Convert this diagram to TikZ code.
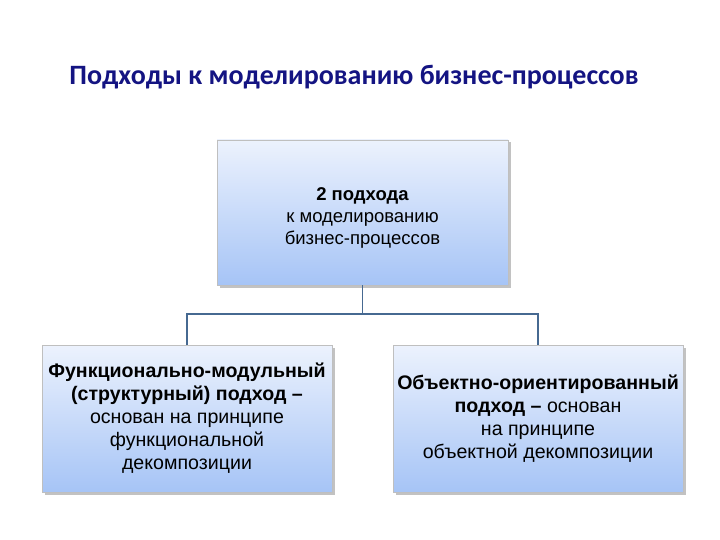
\documentclass[tikz,border=0pt]{standalone}
\usepackage{fontspec}
\setmainfont{Liberation Sans}
\newfontfamily\titlefont{Carlito}
\usetikzlibrary{shadows}
\definecolor{titleblue}{RGB}{20,20,130}
\definecolor{boxtop}{RGB}{236,242,253}
\definecolor{boxbottom}{RGB}{166,196,246}
\definecolor{linkblue}{RGB}{70,105,145}
\tikzset{
  box/.style={draw=black!25, line width=0.6pt, top color=boxtop, bottom color=boxbottom,
    drop shadow={shadow xshift=2.5pt, shadow yshift=-2.5pt, fill=black!40, opacity=0.6},
    align=center, font=\fontsize{19.6}{23}\selectfont, inner xsep=0pt, inner ysep=2pt},
  link/.style={draw=linkblue, line width=1.8pt}
}
\begin{document}
\begin{tikzpicture}[x=1pt, y=-1pt]
\useasboundingbox (0,0) rectangle (720,540);
\node[font=\titlefont\bfseries\fontsize{28}{32}\selectfont, text=titleblue] (title) at (354,77) {Подходы к моделированию бизнес-процессов};
\node[box, font=\fontsize{18.5}{22}\selectfont, minimum width=291pt, minimum height=145pt] (top) at (362.5,212.5) {\rule{0pt}{23pt}\textbf{2 подхода}\\к моделированию\\бизнес-процессов};
\node[box, minimum width=290pt, minimum height=147pt] (left) at (187,418.5) {\textbf{Функционально-модульный}\\\textbf{(структурный) подход –}\\основан на принципе\\функциональной\\декомпозиции};
\node[box, minimum width=290pt, minimum height=147pt] (right) at (538,418.5) {\textbf{Объектно-ориентированный}\\\textbf{подход –} основан\\на принципе\\объектной декомпозиции};
\coordinate (fork) at (362.5,314);
\path[link] (top.south) -- (fork);
\path[link] (left.north) |- (fork) -| (right.north);
\end{tikzpicture}
\end{document}
